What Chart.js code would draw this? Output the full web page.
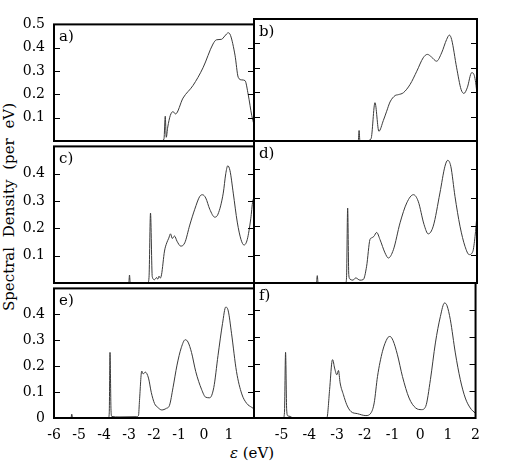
<!DOCTYPE html>
<html>
<head>
<meta charset="utf-8">
<script src="https://cdn.jsdelivr.net/npm/chart.js@4"></script>
<style>
  body { margin: 0; background: #fff; }
  #fig { position: relative; width: 508px; height: 473px; background: #fff; font-family: 'DejaVu Serif', serif; color: #000; }
  #fig canvas { position: absolute; }
  #ytitle { position: absolute; left: 9px; top: 207px; transform: translate(-50%, -50%) rotate(-90deg); white-space: nowrap; font-size: 15px; word-spacing: 5px; }
  #xtitle { position: absolute; left: 252px; top: 453px; transform: translate(-50%, -50%); white-space: nowrap; font-size: 15px; }
</style>
</head>
<body>
<div id="fig">
  <div id="ytitle">Spectral Density (per eV)</div>
  <div id="xtitle"><i>ε</i> (eV)</div>
</div>
<script>
// spectral densities (energy in eV, density per eV)
const energyA = [-6, -1.68, -1.6, -1.55, -1.51, -1.45, -1.35, -1.24, -1.14, -0.84, -0.44, -0.04, 0.36, 0.5, 0.7, 0.83, 0.97, 1.06, 1.24, 1.37, 1.51, 1.64, 1.77, 1.91, 2.0];
const dosA = [0, 0, 0.01, 0.106, 0.016, 0.06, 0.109, 0.126, 0.116, 0.184, 0.238, 0.314, 0.416, 0.434, 0.436, 0.45, 0.464, 0.453, 0.368, 0.273, 0.262, 0.259, 0.198, 0.109, 0.07];

const energyB = [-6, -2.26, -2.23, -2.2, -1.96, -1.8, -1.66, -1.52, -1.36, -1.24, -1.12, -0.94, -0.82, -0.64, -0.4, -0.16, 0.07, 0.22, 0.37, 0.55, 0.73, 0.91, 1.01, 1.09, 1.27, 1.43, 1.53, 1.65, 1.81, 1.89, 1.99, 2.0];
const dosB = [0, 0, 0.043, 0, 0, 0.01, 0.157, 0.04, 0.084, 0.122, 0.16, 0.186, 0.19, 0.198, 0.232, 0.286, 0.341, 0.355, 0.344, 0.327, 0.361, 0.416, 0.434, 0.416, 0.3, 0.211, 0.195, 0.218, 0.28, 0.273, 0.204, 0.19];

const energyC = [-6, -3.01, -2.98, -2.95, -2.25, -2.2, -2.14, -2.07, -1.98, -1.9, -1.85, -1.8, -1.75, -1.7, -1.58, -1.49, -1.41, -1.34, -1.27, -1.18, -1.08, -0.93, -0.77, -0.57, -0.37, -0.17, -0.06, 0.07, 0.23, 0.43, 0.56, 0.77, 0.87, 0.95, 1.04, 1.17, 1.33, 1.48, 1.6, 1.73, 1.87, 1.95, 2.0];
const dosC = [0, 0, 0.029, 0, 0, 0.02, 0.256, 0.023, 0.012, 0.02, 0.014, 0.025, 0.018, 0.03, 0.117, 0.147, 0.164, 0.18, 0.163, 0.172, 0.153, 0.135, 0.147, 0.212, 0.27, 0.317, 0.323, 0.311, 0.27, 0.241, 0.252, 0.329, 0.4, 0.429, 0.411, 0.329, 0.223, 0.159, 0.139, 0.159, 0.235, 0.3, 0.31];

const energyD = [-6, -3.76, -3.73, -3.7, -2.71, -2.68, -2.64, -2.6, -2.56, -2.45, -2.35, -2.2, -2.08, -1.96, -1.84, -1.78, -1.7, -1.6, -1.48, -1.3, -1.18, -1.0, -0.76, -0.52, -0.28, -0.11, 0.1, 0.25, 0.43, 0.67, 0.85, 0.95, 1.06, 1.21, 1.39, 1.57, 1.72, 1.85, 1.93, 2.0];
const dosD = [0, 0, 0.026, 0, 0, 0.02, 0.264, 0.03, 0.014, 0.01, 0.018, 0.01, 0.012, 0.059, 0.153, 0.159, 0.164, 0.178, 0.153, 0.106, 0.088, 0.117, 0.212, 0.282, 0.311, 0.288, 0.206, 0.173, 0.2, 0.317, 0.411, 0.432, 0.411, 0.305, 0.2, 0.129, 0.1, 0.111, 0.164, 0.24];

const energyE = [-6, -5.32, -5.29, -5.26, -3.82, -3.79, -3.76, -3.72, -3.69, -3.4, -2.69, -2.62, -2.58, -2.49, -2.43, -2.35, -2.22, -2.11, -1.98, -1.85, -1.69, -1.51, -1.38, -1.24, -1.08, -0.91, -0.75, -0.64, -0.5, -0.33, -0.1, 0.07, 0.23, 0.39, 0.56, 0.74, 0.87, 0.97, 1.1, 1.3, 1.51, 1.71, 1.91, 2.0];
const dosE = [0, 0, 0.015, 0, 0, 0.02, 0.253, 0.03, 0.006, 0.004, 0.005, 0.01, 0.068, 0.181, 0.17, 0.177, 0.154, 0.099, 0.056, 0.041, 0.031, 0.037, 0.049, 0.117, 0.204, 0.271, 0.302, 0.293, 0.253, 0.179, 0.111, 0.08, 0.078, 0.117, 0.241, 0.364, 0.428, 0.413, 0.327, 0.179, 0.093, 0.056, 0.041, 0.035];

const energyF = [-6, -4.94, -4.9, -4.86, -4.82, -4.78, -4.7, -4.59, -3.37, -3.27, -3.19, -3.16, -3.09, -3.01, -2.95, -2.89, -2.77, -2.65, -2.5, -2.26, -1.96, -1.78, -1.66, -1.54, -1.36, -1.18, -1.09, -0.98, -0.82, -0.64, -0.4, -0.16, 0.05, 0.2, 0.37, 0.55, 0.73, 0.88, 0.97, 1.09, 1.27, 1.45, 1.63, 1.81, 1.99, 2.0];
const dosF = [0, 0, 0.02, 0.243, 0.03, 0.008, 0.006, 0, 0, 0.105, 0.206, 0.216, 0.185, 0.16, 0.176, 0.13, 0.086, 0.049, 0.024, 0.016, 0.009, 0.018, 0.056, 0.154, 0.247, 0.296, 0.302, 0.287, 0.234, 0.154, 0.074, 0.037, 0.031, 0.043, 0.142, 0.278, 0.376, 0.426, 0.416, 0.364, 0.241, 0.142, 0.074, 0.037, 0.018, 0.017];

// tick labels
const yTicksTop = [0.1, 0.2, 0.3, 0.4, 0.5];
const yTicksMid = [0.1, 0.2, 0.3, 0.4];
const yTicksBottom = [0, 0.1, 0.2, 0.3, 0.4];
const yTickMarks = [0.1, 0.2, 0.3, 0.4];
const xTicksLeft = [-6, -5, -4, -3, -2, -1, 0, 1];
const xTicksRight = [-5, -4, -3, -2, -1, 0, 1, 2];

// panel layout (pixels)
const colsX = [[54, 254], [254, 477]];
const rowsY = [[19, 141], [141, 283], [283, 418]];
const M = { left: 54, top: 12, right: 12, bottom: 30 };
const FONT = { family: "'DejaVu Serif', serif", size: 14 };

const framePlugin = {
    id: 'frame',
    afterDraw(chart, args, opts) {
        const ctx = chart.ctx;
        const a = chart.chartArea;
        const y = chart.scales.y;
        ctx.save();
        ctx.strokeStyle = '#000';
        ctx.lineWidth = 1;
        ctx.beginPath();
        yTickMarks.forEach(v => {
            const py = Math.round(y.getPixelForValue(v)) + 0.5;
            ctx.moveTo(a.left, py); ctx.lineTo(a.left + 6, py);
            ctx.moveTo(a.right - 6, py); ctx.lineTo(a.right, py);
        });
        ctx.stroke();
        ctx.lineWidth = 2;
        ctx.strokeRect(a.left, a.top, a.right - a.left, a.bottom - a.top);
        ctx.fillStyle = '#000';
        ctx.font = "15px 'DejaVu Serif', serif";
        ctx.textBaseline = 'alphabetic';
        ctx.fillText(opts.label, a.left + 5, a.top + 17);
        ctx.restore();
    }
};

const panels = [
    { label: 'a)', col: 0, row: 0, energy: energyA, dos: dosA, yTicks: yTicksTop, xTicks: null },
    { label: 'b)', col: 1, row: 0, energy: energyB, dos: dosB, yTicks: null, xTicks: null },
    { label: 'c)', col: 0, row: 1, energy: energyC, dos: dosC, yTicks: yTicksMid, xTicks: null },
    { label: 'd)', col: 1, row: 1, energy: energyD, dos: dosD, yTicks: null, xTicks: null },
    { label: 'e)', col: 0, row: 2, energy: energyE, dos: dosE, yTicks: yTicksBottom, xTicks: xTicksLeft },
    { label: 'f)', col: 1, row: 2, energy: energyF, dos: dosF, yTicks: null, xTicks: xTicksRight }
];

const fig = document.getElementById('fig');

panels.forEach(p => {
    const [x0, x1] = colsX[p.col];
    const [y0, y1] = rowsY[p.row];
    const canvas = document.createElement('canvas');
    const w = x1 - x0 + M.left + M.right;
    const h = y1 - y0 + M.top + M.bottom;
    canvas.width = w; canvas.height = h;
    canvas.style.left = (x0 - M.left) + 'px';
    canvas.style.top = (y0 - M.top) + 'px';
    canvas.style.width = w + 'px';
    canvas.style.height = h + 'px';
    fig.appendChild(canvas);

    new Chart(canvas.getContext('2d'), {
        type: 'line',
        data: {
            datasets: [{
                data: p.energy.map((e, i) => ({ x: e, y: p.dos[i] })),
                borderColor: '#3a3a3a',
                borderWidth: 1,
                pointRadius: 0,
                cubicInterpolationMode: 'monotone',
                fill: false
            }]
        },
        options: {
            responsive: false,
            animation: false,
            devicePixelRatio: 1,
            layout: { padding: { left: 0, top: M.top, right: M.right, bottom: 0 } },
            plugins: { legend: { display: false }, tooltip: { enabled: false }, frame: { label: p.label } },
            scales: {
                x: {
                    type: 'linear', min: -6, max: 2,
                    grid: { display: false, drawTicks: false },
                    border: { display: false },
                    ticks: { display: !!p.xTicks, color: '#000', font: FONT, padding: 9, maxRotation: 0 },
                    afterBuildTicks: s => { if (p.xTicks) s.ticks = p.xTicks.map(v => ({ value: v })); },
                    afterFit: s => { s.height = M.bottom; }
                },
                y: {
                    type: 'linear', min: 0, max: 0.5,
                    grid: { display: false, drawTicks: false },
                    border: { display: false },
                    ticks: { display: !!p.yTicks, color: '#000', font: FONT, padding: 9 },
                    afterBuildTicks: s => { if (p.yTicks) s.ticks = p.yTicks.map(v => ({ value: v })); },
                    afterFit: s => { s.width = M.left; }
                }
            }
        },
        plugins: [framePlugin]
    });
});
</script>
</body>
</html>
